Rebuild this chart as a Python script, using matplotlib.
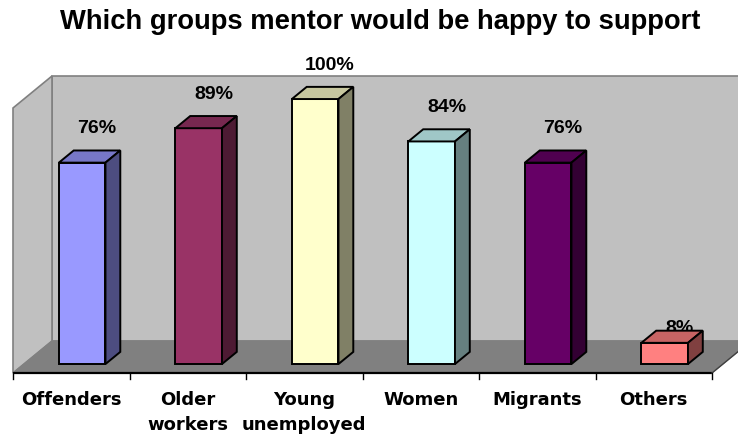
"""
Excel style 3D column chart: which groups a mentor would support.
"""

import numpy as np
import matplotlib.pyplot as plt
from matplotlib.patches import Polygon
from matplotlib.colors import to_rgb

categories = ["Offenders", "Older\nworkers", "Young\nunemployed", "Women", "Migrants", "Others"]
values = [76, 89, 100, 84, 76, 8]
value_labels = ["76%", "89%", "100%", "84%", "76%", "8%"]
colors = ["#9999FF", "#993366", "#FFFFCC", "#CCFFFF", "#660066", "#FF8080"]
title = "Which groups mentor would be happy to support"

# layout in pixels of the reference image
W, H = 738, 438
X0, Y0 = 13, 373          # front-left corner of the floor
SX, SY = 116.5, 2.65      # px per category, px per percent
DX, DY = 39 / SX, 32 / SY # depth offset in data units
YMAX = 100
BW = 0.40                 # bar width (category units)
D0, D1 = 0.28, 0.66       # bar front / back depth


def proj(cx, v, d):
    return (cx + DX * d, v + DY * d)


def face(ax, pts, fc, ec="black", lw=1.0, z=1):
    ax.add_patch(Polygon(pts, closed=True, facecolor=fc, edgecolor=ec,
                         linewidth=lw, zorder=z, joinstyle="miter"))


def shade(c, f):
    return tuple(np.clip(np.array(to_rgb(c)) * f, 0, 1))


def main():
    fig = plt.figure(figsize=(W / 100, H / 100), dpi=100)
    ax = fig.add_axes([0, 0, 1, 1])
    ax.set_xlim(-X0 / SX, (W - X0) / SX)
    ax.set_ylim((Y0 - H) / SY, Y0 / SY)
    ax.set_axis_off()

    n = len(values)

    # walls and floor
    face(ax, [proj(0, 0, 1), proj(n, 0, 1), proj(n, YMAX, 1), proj(0, YMAX, 1)],
         "#C0C0C0", ec="#808080", lw=1.2, z=0)
    face(ax, [proj(0, 0, 0), proj(0, 0, 1), proj(0, YMAX, 1), proj(0, YMAX, 0)],
         "#C0C0C0", ec="#808080", lw=1.2, z=0)
    face(ax, [proj(0, 0, 0), proj(n, 0, 0), proj(n, 0, 1), proj(0, 0, 1)],
         "#808080", ec="#808080", lw=0.8, z=0.5)

    # axis line, right floor edge and ticks
    ax.plot([0, n], [0, 0], color="black", lw=1.6, zorder=0.8,
            solid_capstyle="butt")
    x_r, y_r = proj(n, 0, 1)
    ax.plot([n, x_r], [0, y_r], color="#404040", lw=1.0, zorder=0.8)
    for k in range(n + 1):
        ax.plot([k, k], [0, -6 / SY], color="black", lw=1.0, zorder=0.8)

    # bars
    for i, (v, c) in enumerate(zip(values, colors)):
        x0, x1 = i + 0.5 - BW / 2, i + 0.5 + BW / 2
        face(ax, [proj(x0, 0, D0), proj(x1, 0, D0), proj(x1, v, D0), proj(x0, v, D0)],
             c, lw=1.4, z=2)
        face(ax, [proj(x0, v, D0), proj(x1, v, D0), proj(x1, v, D1), proj(x0, v, D1)],
             shade(c, 0.78), lw=1.4, z=2)
        face(ax, [proj(x1, 0, D0), proj(x1, 0, D1), proj(x1, v, D1), proj(x1, v, D0)],
             shade(c, 0.5), lw=1.4, z=2)

        lx, ly = proj(i + 0.5, v, D1)
        if v > 20:
            ly, lz = ly + 17 / SY, 3
        else:
            ly, lz = ly - 2 / SY, 1.5
        ax.text(lx, ly, value_labels[i], ha="center", va="baseline",
                fontsize=14, fontweight="bold", family="Liberation Sans",
                zorder=lz)

        ax.text(i + 0.5, (Y0 - 391) / SY, categories[i], ha="center", va="top",
                fontsize=13, fontweight="bold", family="DejaVu Sans",
                linespacing=1.5, multialignment="center")

    fig.text(380 / W, 1 - 22 / H, title, ha="center", va="center",
             fontsize=19.7, fontweight="bold", family="Liberation Sans")

    fig.savefig("out.png", dpi=100)


if __name__ == "__main__":
    main()
